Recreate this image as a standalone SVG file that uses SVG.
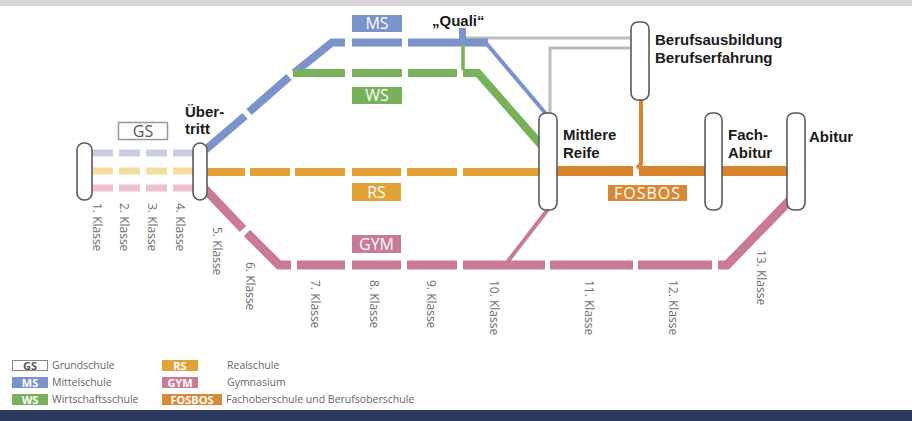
<svg xmlns="http://www.w3.org/2000/svg" width="912" height="421" viewBox="0 0 912 421">
<style>
.node{fill:#fff;stroke:#5a5a5a;stroke-width:1.6}
.lbl{font-family:"Liberation Sans",Arial,sans-serif;font-weight:bold;font-size:15px;fill:#1a1a1a}
.box{font-family:"Open Sans","Liberation Sans",sans-serif;font-size:16px;fill:#fff;text-anchor:middle}
.kl{font-family:"Open Sans","Liberation Sans",sans-serif;font-size:12px;fill:#6e6e6e;dominant-baseline:central}
.lg{font-family:"Open Sans","Liberation Sans",sans-serif;font-size:10.5px;fill:#666}
.lgb{font-family:"Open Sans","Liberation Sans",sans-serif;font-size:11px;fill:#fff;text-anchor:middle;font-weight:bold}
.ms{stroke:#7b93cb;fill:none}
.ws{stroke:#77b25a;fill:none}
.rs{stroke:#e2a236;fill:none}
.fb{stroke:#d9842f;fill:none}
.gy{stroke:#c97a98;fill:none}
.gr{stroke:#bdbdbd;fill:none;stroke-width:3}
</style>
<rect x="0" y="0" width="912" height="6" fill="#d7d7d7"/>
<rect x="0" y="410" width="912" height="11" fill="#2d3a5f"/>

<g id="connectors">
  <line x1="92" y1="153" x2="194" y2="153" stroke="#c9cde3" stroke-width="7" stroke-dasharray="21 6"/>
  <line x1="92" y1="171" x2="194" y2="171" stroke="#f1dd9e" stroke-width="7" stroke-dasharray="21 6"/>
  <line x1="92" y1="188" x2="194" y2="188" stroke="#efc0d0" stroke-width="7" stroke-dasharray="21 6"/>
  <path class="gr" d="M466,38 H632"/>
  <path class="gr" d="M632,48 H550 V114"/>
  <g class="ms" stroke-width="8">
    <path d="M204,151 L245,116"/>
    <path d="M249,112 L289,77"/>
    <path d="M294,73 L332,42.5 H345"/>
    <path d="M352,42.5 H402"/>
    <path d="M408,42.5 H488"/>
  </g>
  <path class="ms" stroke-width="4" d="M486,43 L547,115"/>
  <rect x="459" y="28" width="7" height="16" fill="#7b93cb"/>
  <g class="ws" stroke-width="8">
    <path d="M293,73 H345"/>
    <path d="M352,73 H402"/>
    <path d="M408,73 H457"/>
    <path d="M463,73 H478 L542,146"/>
  </g>
  <path class="ws" stroke-width="3.5" d="M463,44 V70"/>
  <g class="rs" stroke-width="8">
    <path d="M207,172 H245"/>
    <path d="M250,172 H290"/>
    <path d="M295,172 H345"/>
    <path d="M352,172 H401"/>
    <path d="M407,172 H457"/>
    <path d="M463,172 H541"/>
  </g>
  <g class="fb">
    <path stroke-width="10" d="M556,171 H633"/>
    <path stroke-width="10" d="M639,171 H706"/>
    <path stroke-width="10" d="M721,171 H788"/>
    <path stroke-width="4" d="M641,100 V164 L637,168"/>
  </g>
  <g class="gy" stroke-width="9">
    <path d="M204,188 L243,229"/>
    <path d="M247,233 L279,265 H291"/>
    <path d="M297,265 H345"/>
    <path d="M352,265 H401"/>
    <path d="M407,265 H457"/>
    <path d="M463,265 H545"/>
    <path d="M550,265 H633"/>
    <path d="M638,265 H712"/>
    <path d="M718,265 H727 L793,197"/>
  </g>
  <path class="gy" stroke-width="4" d="M505,265 L549,208"/>
</g>

<g id="n-start"><rect class="node" x="77" y="143" width="15" height="57" rx="7"/></g>
<g id="n-uebertritt">
  <rect class="node" x="193" y="143" width="14" height="57" rx="7"/>
  <text class="lbl" font-size="14"><tspan x="185" y="117">Über-</tspan><tspan x="185" y="133.5">tritt</tspan></text>
</g>
<g id="n-mittlere-reife">
  <rect class="node" x="539" y="113" width="18" height="97" rx="7"/>
  <text class="lbl"><tspan x="563" y="140">Mittlere</tspan><tspan x="563" y="157.5">Reife</tspan></text>
</g>
<g id="n-beruf">
  <rect class="node" x="631" y="22" width="18" height="78" rx="7"/>
  <text class="lbl"><tspan x="655" y="45">Berufsausbildung</tspan><tspan x="655" y="62.5">Berufserfahrung</tspan></text>
</g>
<g id="n-fachabitur">
  <rect class="node" x="705" y="113" width="17" height="97" rx="7"/>
  <text class="lbl"><tspan x="728" y="140">Fach-</tspan><tspan x="728" y="157.5">Abitur</tspan></text>
</g>
<g id="n-abitur">
  <rect class="node" x="787" y="113" width="18" height="97" rx="7"/>
  <text class="lbl" x="809" y="142">Abitur</text>
</g>
<g id="n-quali">
  <text class="lbl" x="432" y="26">„Quali“</text>
</g>

<g id="school-labels">
  <rect x="118.5" y="122.5" width="49" height="17" fill="#fff" stroke="#999" stroke-width="1.5"/>
  <text class="box" x="143" y="137" style="fill:#555">GS</text>
  <rect x="352" y="15" width="50" height="17" fill="#7b93cb"/>
  <text class="box" x="377" y="29">MS</text>
  <rect x="352" y="87" width="50" height="17" fill="#77b25a"/>
  <text class="box" x="377" y="101">WS</text>
  <rect x="352" y="183" width="49" height="18" fill="#e2a236"/>
  <text class="box" x="376.5" y="198">RS</text>
  <rect x="352" y="235" width="49" height="18" fill="#c97a98"/>
  <text class="box" x="376.5" y="250">GYM</text>
  <rect x="608" y="185" width="79" height="16" fill="#d98836"/>
  <text class="box" x="647.5" y="199" letter-spacing="1">FOSBOS</text>
</g>

<g id="grades">
  <text class="kl" transform="translate(97,203) rotate(90)">1. Klasse</text>
  <text class="kl" transform="translate(124,203) rotate(90)">2. Klasse</text>
  <text class="kl" transform="translate(152,203) rotate(90)">3. Klasse</text>
  <text class="kl" transform="translate(180,203) rotate(90)">4. Klasse</text>
  <text class="kl" transform="translate(217,227) rotate(90)">5. Klasse</text>
  <text class="kl" transform="translate(250,262) rotate(90)">6. Klasse</text>
  <text class="kl" transform="translate(315,280) rotate(90)">7. Klasse</text>
  <text class="kl" transform="translate(374,280) rotate(90)">8. Klasse</text>
  <text class="kl" transform="translate(431,280) rotate(90)">9. Klasse</text>
  <text class="kl" transform="translate(494,280) rotate(90)">10. Klasse</text>
  <text class="kl" transform="translate(589,280) rotate(90)">11. Klasse</text>
  <text class="kl" transform="translate(673,280) rotate(90)">12. Klasse</text>
  <text class="kl" transform="translate(761,250) rotate(90)">13. Klasse</text>
</g>

<g id="legend">
  <rect x="12.5" y="360.5" width="35" height="10" fill="#fff" stroke="#888" stroke-width="1"/>
  <text class="lgb" x="30" y="369.5" style="fill:#555">GS</text>
  <rect x="12" y="377" width="36" height="11" fill="#7b93cb"/>
  <text class="lgb" x="30" y="386.5">MS</text>
  <rect x="12" y="394" width="36" height="11" fill="#77b25a"/>
  <text class="lgb" x="30" y="403.5">WS</text>
  <text class="lg" x="52" y="369">Grundschule</text>
  <text class="lg" x="52" y="386">Mittelschule</text>
  <text class="lg" x="52" y="403">Wirtschaftsschule</text>
  <rect x="162" y="360" width="36" height="11" fill="#e2a236"/>
  <text class="lgb" x="180" y="369.5">RS</text>
  <rect x="162" y="377" width="36" height="11" fill="#c97a98"/>
  <text class="lgb" x="180" y="386.5">GYM</text>
  <rect x="162" y="394" width="60" height="11" fill="#d98836"/>
  <text class="lgb" x="192" y="403.5">FOSBOS</text>
  <text class="lg" x="227" y="369">Realschule</text>
  <text class="lg" x="227" y="386">Gymnasium</text>
  <text class="lg" x="226" y="403">Fachoberschule und Berufsoberschule</text>
</g>
</svg>
